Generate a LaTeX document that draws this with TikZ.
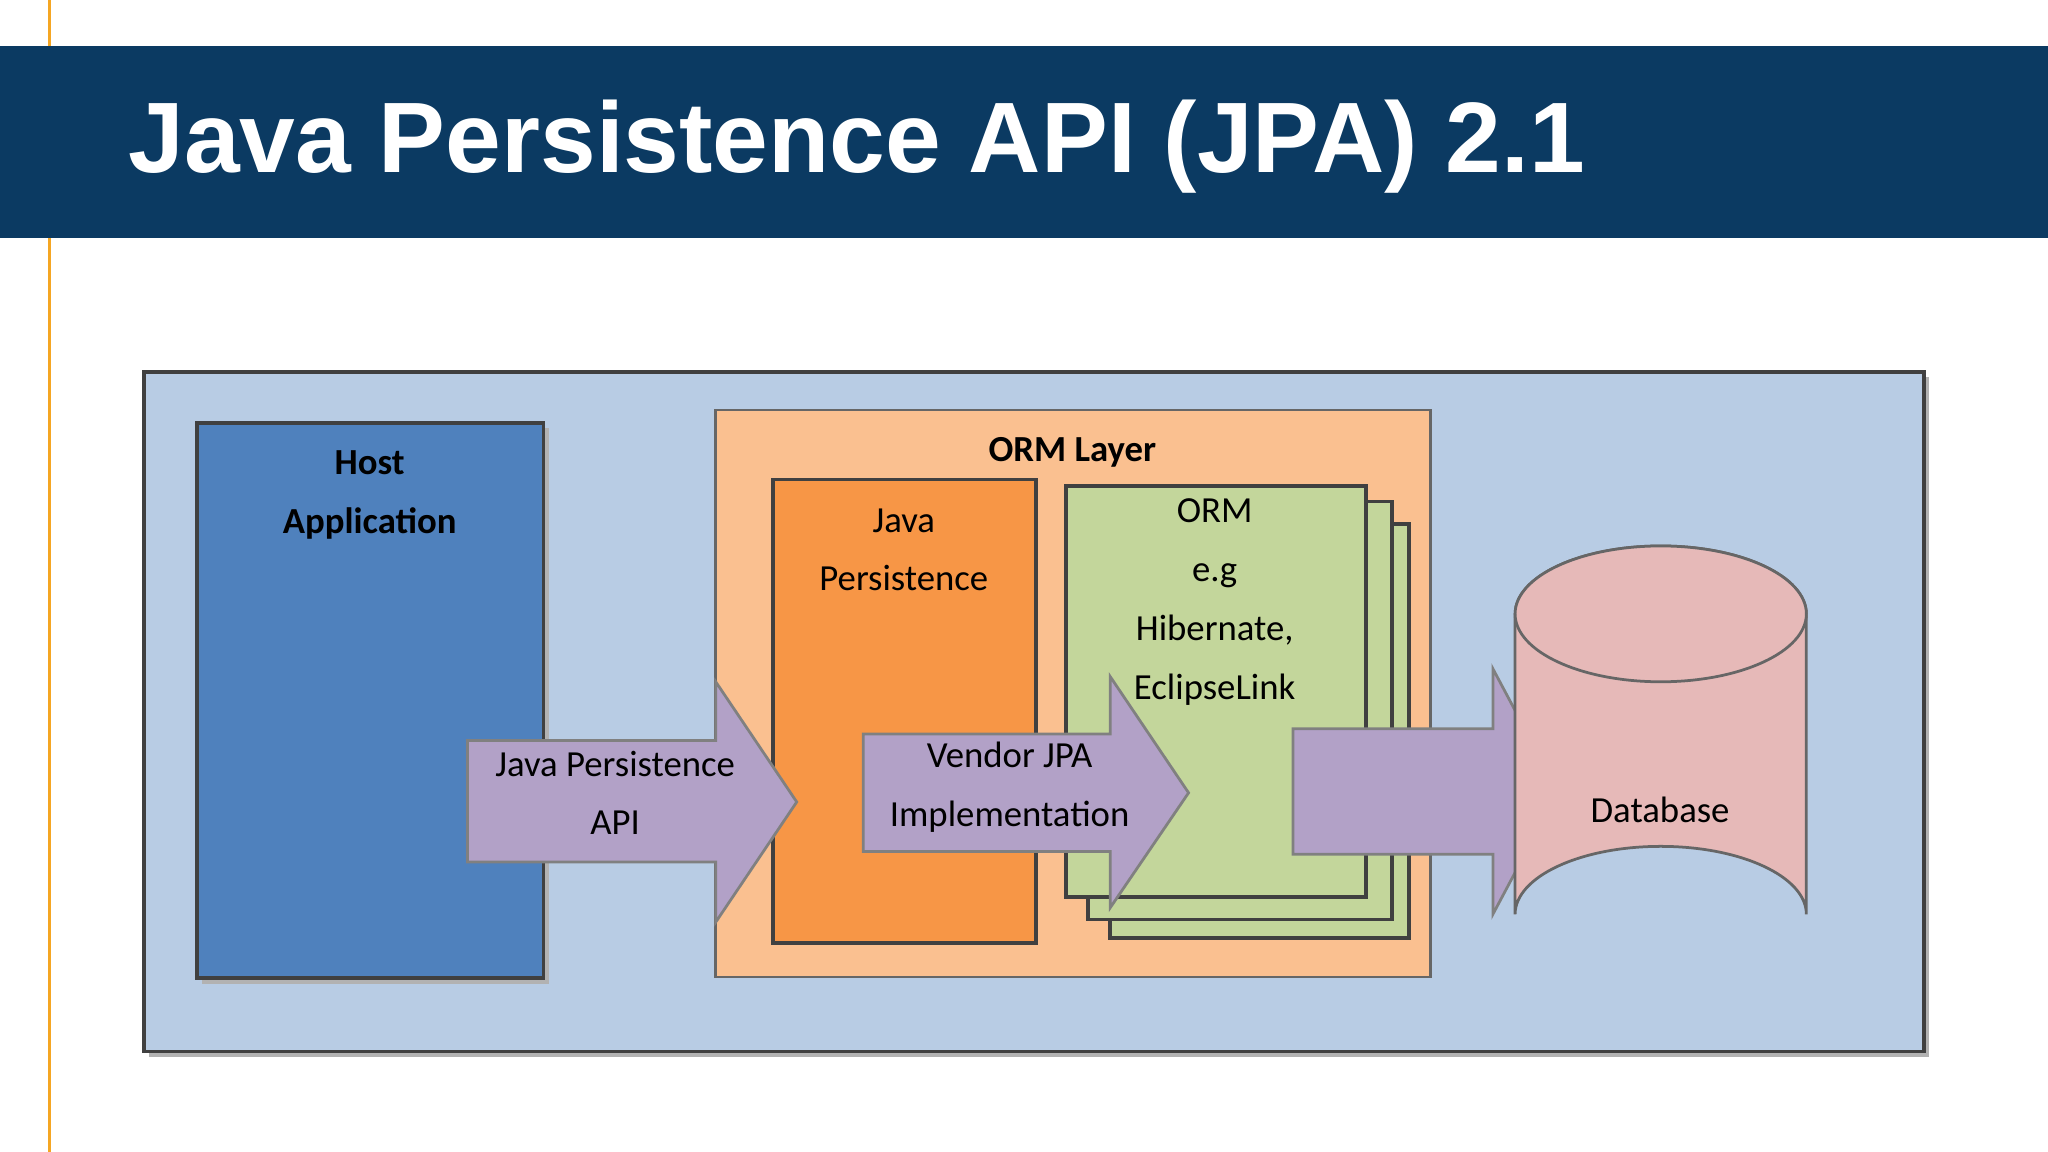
\documentclass[tikz,border=0pt]{standalone}
\usepackage{fontspec}
\setmainfont{Carlito}
\newfontfamily\titlefont{Liberation Sans}
\begin{document}
\begin{tikzpicture}[x=0.01cm,y=-0.01cm,
  box/.style={draw=black!75,line width=0.8pt},
  arr/.style={draw=black!50,fill=arrfill,line width=0.6pt},
  lbl/.style={align=center,font=\fontsize{8}{12.8}\selectfont},
  blbl/.style={align=center,font=\fontsize{8}{12.8}\selectfont\bfseries},
  shadow/.style={fill=black!30}]
\definecolor{hdr}{HTML}{0B3A62}
\definecolor{orng}{HTML}{F5A623}
\definecolor{panel}{HTML}{B8CCE4}
\definecolor{host}{HTML}{4F81BD}
\definecolor{ormlayer}{HTML}{FAC090}
\definecolor{jp}{HTML}{F79646}
\definecolor{grn}{HTML}{C3D69B}
\definecolor{arrfill}{HTML}{B2A1C7}
\definecolor{db}{HTML}{E6B9B8}
\useasboundingbox (0,0) rectangle (1568,882);
\fill[white] (0,0) rectangle (1568,882);
\draw[orng,line width=0.8pt] (38,0) -- (38,882);
\fill[hdr] (0,35) rectangle (1568,182);
\node[anchor=west,text=white,font=\titlefont\fontsize{21.8}{26}\selectfont\bfseries] (title) at (86,112) {Java Persistence API (JPA) 2.1};
% panel
\fill[shadow] (114,289) rectangle (1477,809);
\draw[box,fill=panel] (110,285) rectangle (1473,805);
% host
\fill[shadow] (155,328) rectangle (420,753);
\draw[box,fill=host] (151,324) rectangle (416,749);
\node[blbl] (hosttxt) at (283,379) {Host\\Application};
% ORM layer
\draw[draw=black!60,line width=0.6pt,fill=ormlayer] (548,314) rectangle (1095,748);
\node[blbl] (ormtxt) at (821,346) {ORM Layer};
% Java persistence
\draw[box,fill=jp] (592,367) rectangle (793,722);
\node[lbl] (jptxt) at (692,421) {Java\\Persistence};
% ORM stack
\draw[box,fill=grn] (850,401) rectangle (1079,718);
\draw[box,fill=grn] (833,384) rectangle (1066,704);
\draw[box,fill=grn] (816,372) rectangle (1046,687);
\node[lbl] (ormimpl) at (930,461) {ORM\\e.g\\Hibernate,\\EclipseLink};
% arrows
\draw[arr] (358,567) -- (548,567) -- (548,522) -- (610,614) -- (548,706) -- (548,660) -- (358,660) -- cycle;
\node[lbl] (a1) at (471,607) {Java Persistence\\API};
\draw[arr] (661,562) -- (850,562) -- (850,518) -- (910,607) -- (850,695) -- (850,652) -- (661,652) -- cycle;
\node[lbl] (a2) at (773,603) {Vendor JPA\\Implementation};
\draw[arr] (990,558) -- (1143,558) -- (1143,512) -- (1193,606) -- (1143,700) -- (1143,654) -- (990,654) -- cycle;
% database
\draw[draw=black!60,line width=0.6pt,fill=db] (1160,470) -- (1160,700) arc[start angle=180,end angle=360,x radius=111.5,y radius=52] -- (1383,470) arc[start angle=0,end angle=-180,x radius=111.5,y radius=52] -- cycle;
\draw[draw=black!60,line width=0.6pt,fill=db] (1271.5,470) ellipse[x radius=111.5,y radius=52];
\node[lbl] (dbtxt) at (1271,620) {Database};
\end{tikzpicture}
\end{document}
